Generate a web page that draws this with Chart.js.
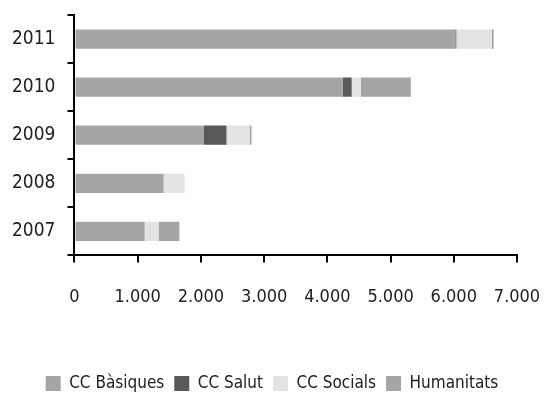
<!DOCTYPE html>
<html>
<head>
<meta charset="utf-8">
<script src="https://cdn.jsdelivr.net/npm/chart.js@4"></script>
<style>
  body { margin: 0; background: #fff; }
  #wrap { width: 544px; height: 394px; }
</style>
</head>
<body>
<div id="wrap"><canvas id="chart" width="544" height="394"></canvas></div>
<script>
const years = ["2007", "2008", "2009", "2010", "2011"];
const ccBasiques = [1110, 1410, 2040, 4245, 6025];
const ccSalut = [0, 0, 365, 140, 15];
const ccSocials = [220, 330, 365, 145, 560];
const humanitats = [330, 0, 30, 790, 30];
const xTicks = [0, 1000, 2000, 3000, 4000, 5000, 6000, 7000];

const fontName = "'DejaVu Sans Condensed', 'DejaVu Sans', sans-serif";

function thousands(v) {
  return String(v).replace(/\B(?=(\d{3})+(?!\d))/g, ".");
}

const ctx = document.getElementById("chart");

new Chart(ctx, {
  type: "bar",
  data: {
    labels: years,
    datasets: [
      { label: "CC Bàsiques", data: ccBasiques, backgroundColor: "#a5a5a5" },
      { label: "CC Salut", data: ccSalut, backgroundColor: "#595959" },
      { label: "CC Socials", data: ccSocials, backgroundColor: "#e3e3e3" },
      { label: "Humanitats", data: humanitats, backgroundColor: "#a5a5a5" },
    ],
  },
  options: {
    indexAxis: "y",
    responsive: false,
    animation: false,
    barPercentage: 0.5,
    categoryPercentage: 0.8,
    layout: { padding: { top: 15, left: 0, right: 0, bottom: -8 } },
    plugins: {
      legend: {
        position: "bottom",
        labels: {
          color: "#222",
          font: { family: fontName, size: 17 },
          boxWidth: 15,
          boxHeight: 15,
          padding: 10,
        },
      },
      tooltip: { enabled: false },
    },
    scales: {
      x: {
        stacked: true,
        min: 0,
        max: 7000,
        afterBuildTicks: (scale) => {
          scale.ticks = xTicks.map((v) => ({ value: v }));
        },
        afterFit: (scale) => {
          scale.height += 33;
          scale.paddingRight = 27;
          scale.paddingLeft = 0;
        },
        grid: {
          drawOnChartArea: false,
          drawTicks: true,
          tickLength: 7,
          color: "#000",
          lineWidth: 2,
        },
        border: { color: "#000", width: 2 },
        ticks: {
          color: "#222",
          padding: 24,
          maxRotation: 0,
          font: { family: fontName, size: 18 },
          callback: (v) => thousands(v),
        },
      },
      y: {
        stacked: true,
        reverse: true,
        afterFit: (scale) => {
          scale.paddingTop = 0;
          scale.paddingBottom = 0;
        },
        grid: {
          drawOnChartArea: false,
          drawTicks: true,
          tickLength: 7,
          color: "#000",
          lineWidth: 2,
          offset: true,
        },
        border: { color: "#000", width: 2 },
        ticks: {
          color: "#222",
          padding: 12,
          font: { family: fontName, size: 19 },
        },
      },
    },
  },
});
</script>
</body>
</html>
